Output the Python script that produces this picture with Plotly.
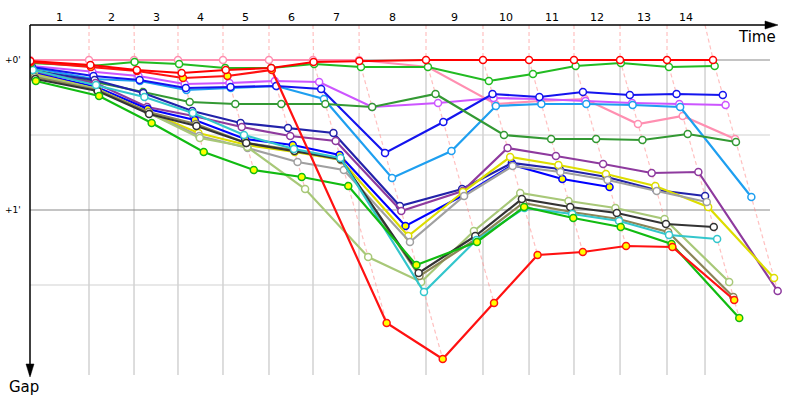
import plotly.graph_objects as go

# ---------------- data ----------------
# leader's cumulative race time at the end of each lap (s); index 0 = start
leader_times = [0, 84.3, 148.6, 211.4, 275.7, 341.4, 404.3, 470.0, 565.7,
                647.1, 712.9, 777.1, 842.9, 910.0, 975.7]
# vertical lap boundaries drawn on the chart (s); last one is the time limit
grid_times = [84.3, 148.6, 211.4, 275.7, 341.4, 404.3, 470.0, 565.7,
              647.1, 712.9, 777.1, 842.9, 910.0, 964.3]
lap_labels = [str(i) for i in range(1, 15)]
gap_ticks = [0, 60]
gap_tick_labels = ["+0'", "+1'"]

# gap to the leader (s) at the end of each lap, per car
names = ["Pink", "Violet", "Sky blue", "Deep blue", "Dark green", "Navy", "Purple",
         "Blue Y", "Yellow", "Gray", "Light olive", "Olive", "Black", "Cyan",
         "Green Y", "Green", "Red Y", "Red"]
colors = ["#FF8FB1", "#CC55FF", "#1E9FF0", "#1414EE", "#339933", "#2222AA", "#8E3A9E",
          "#0000FF", "#DDDD00", "#A0A0A0", "#A8C878", "#8B8557", "#333333", "#33C6CC",
          "#11BB11", "#22BB22", "#FF1111", "#FF0000"]
fills = ["white", "white", "white", "white", "white", "white", "white",
         "#FFFF00", "white", "white", "white", "white", "white", "white",
         "#FFFF00", "white", "#FFFF00", "white"]

gap_pink = [0, 0, 0, 0, 0, 0, 0, 0, 2.8, 17.6, 16.4, 15.6, 25.6, 22.4, 31.6]
gap_violet = [2.4, 4.8, 6.4, 9.6, 9.2, 8.4, 8.8, 18.8, 17.2, 15.2, 15.6, 16.4, 17.2, 17.6, 18.0]
gap_skyblue = [3.2, 7.6, 8.4, 12.0, 11.2, 10.4, 15.6, 47.2, 36.4, 18.4, 17.6, 17.6, 18.0, 18.8, 54.8]
gap_deepblue = [2.8, 6.4, 8.0, 11.2, 10.8, 10.4, 11.6, 37.2, 24.8, 13.6, 14.8, 12.8, 14.0, 13.6, 14.0]
gap_darkgreen = [4.0, 8.8, 12.8, 16.8, 17.6, 17.6, 17.6, 18.8, 13.6, 30.0, 31.6, 31.6, 32.0, 29.6, 32.8]
gap_navy = [4.4, 8.0, 13.2, 20.4, 25.2, 27.2, 29.2, 58.4, 51.6, 41.2, 43.6, 46.8, 52.0, 54.4]
gap_purple = [4.8, 9.2, 18.8, 22.4, 26.8, 30.4, 32.4, 60.4, 52.4, 35.2, 38.4, 41.6, 45.2, 44.8, 92.4]
gap_blue_y = [5.2, 10.8, 19.6, 24.0, 31.6, 34.0, 38.0, 66.4, 54.0, 42.0, 47.6, 50.8]
gap_yellow = [5.6, 11.6, 20.8, 29.2, 34.0, 36.8, 40.0, 70.4, 52.8, 38.8, 42.0, 45.6, 50.4, 58.8, 87.2]
gap_gray = [6.0, 12.0, 21.2, 30.4, 35.2, 40.8, 44.0, 72.8, 54.4, 42.4, 44.8, 48.0, 52.4, 56.8]
gap_lightolive = [6.0, 11.6, 21.2, 31.2, 34.8, 51.6, 78.8, 88.8, 68.4, 53.2, 56.4, 59.2, 63.6, 88.8]
gap_olive = [6.8, 12.0, 20.8, 25.6, 33.2, 36.0, 40.0, 86.4, 71.6, 57.2, 60.8, 63.6, 68.8, 94.8]
gap_black = [7.6, 12.4, 21.6, 26.4, 33.2, 36.4, 39.6, 85.2, 70.4, 55.6, 58.8, 61.2, 65.6, 66.8]
gap_cyan = [4.0, 10.0, 14.8, 21.2, 30.0, 35.6, 39.2, 92.8, 72.0, 59.2, 61.6, 64.4, 70.0, 71.6]
gap_green_y = [8.4, 14.4, 25.2, 36.8, 44.0, 46.8, 50.4, 82.0, 72.8, 58.8, 63.2, 66.8, 73.6, 103.2]
gap_green = [1.2, 2.4, 0.8, 1.6, 3.2, 3.2, 1.6, 2.8, 2.8, 8.4, 5.6, 2.4, 1.2, 2.8, 2.4]
gap_red_y = [0.8, 2.8, 4.4, 7.2, 6.4, 4.0, 105.2, 119.6, 97.2, 78.0, 76.8, 74.4, 74.8, 96.0]
gap_red = [0.4, 2.0, 4.0, 5.2, 4.0, 3.2, 0.8, 0.4, 0, 0, 0, 0, 0, 0, 0]

gaps = [gap_pink, gap_violet, gap_skyblue, gap_deepblue, gap_darkgreen, gap_navy,
        gap_purple, gap_blue_y, gap_yellow, gap_gray, gap_lightolive, gap_olive,
        gap_black, gap_cyan, gap_green_y, gap_green, gap_red_y, gap_red]

# ---------------- figure ----------------
X_MAX = 1085.7      # right edge of drawing area
X_GRID_END = 1057.1  # where the horizontal gap lines stop
Y_TOP, Y_BOT = -14, 126

fig = go.Figure()

shapes = []
for t in grid_times:
    shapes.append(dict(type="line", xref="x", yref="y", x0=t, x1=t, y0=0, y1=Y_BOT,
                       line=dict(color="#D2D2D2", width=1.5), layer="below"))
for g, c in [(0, "#8A8A8A"), (30, "#D2D2D2"), (60, "#8A8A8A"), (90, "#D2D2D2")]:
    shapes.append(dict(type="line", xref="x", yref="y", x0=0, x1=X_GRID_END, y0=g, y1=g,
                       line=dict(color=c, width=1.2), layer="below"))

# lap lines (dashed) linking every car's crossing of the same lap
for k in range(1, len(grid_times) + 1):
    pts = []
    for gp in gaps:
        if len(gp) > k:
            pts.append((leader_times[k] + gp[k], gp[k]))
    pts.sort(key=lambda p: p[1])
    xs = [grid_times[k - 1]] + [p[0] for p in pts]
    ys = [Y_TOP] + [p[1] for p in pts]
    fig.add_trace(go.Scatter(x=xs, y=ys, mode="lines", hoverinfo="skip",
                             line=dict(color="rgba(255,140,140,0.55)", width=1.2,
                                       dash="4px,3px")))

# car traces
for name, col, fc, gp in zip(names, colors, fills, gaps):
    xs = [leader_times[i] + g for i, g in enumerate(gp)]
    fig.add_trace(go.Scatter(
        x=xs, y=gp, mode="lines+markers", name=name,
        line=dict(color=col, width=2.2),
        marker=dict(size=7, color=fc, line=dict(color=col, width=1.5)),
    ))

# axes with arrows (paper coordinates)
W, H = 760.0, 350.0
shapes.append(dict(type="line", xref="paper", yref="paper", x0=0, x1=736 / W, y0=1, y1=1,
                   line=dict(color="black", width=1.5)))
shapes.append(dict(type="path", xref="paper", yref="paper",
                   path=f"M {748/W} 1 L {735/W} {1+4/H} L {735/W} {1-4/H} Z",
                   fillcolor="black", line=dict(color="black", width=0.5)))
shapes.append(dict(type="line", xref="paper", yref="paper", x0=0, x1=0, y0=1, y1=0.0,
                   line=dict(color="black", width=1.5)))
shapes.append(dict(type="path", xref="paper", yref="paper",
                   path=f"M 0 {-2/H} L {-4/W} {11/H} L {4/W} {11/H} Z",
                   fillcolor="black", line=dict(color="black", width=0.5)))

annotations = []
bounds = [0] + grid_times
for i, lab in enumerate(lap_labels):
    annotations.append(dict(x=(bounds[i] + bounds[i + 1]) / 2, y=1, xref="x", yref="paper",
                            text=lab, showarrow=False, yanchor="middle", yshift=8,
                            font=dict(family="DejaVu Sans", size=11, color="black")))
for g, lab in zip(gap_ticks, gap_tick_labels):
    annotations.append(dict(x=0, y=g, xref="paper", yref="y", text=lab, showarrow=False,
                            xanchor="right", xshift=-7,
                            font=dict(family="DejaVu Sans", size=9, color="black")))
annotations.append(dict(x=748 / W, y=1, xref="paper", yref="paper", text="Time",
                        showarrow=False, xanchor="right", yanchor="top", yshift=-1,
                        font=dict(family="DejaVu Sans", size=15, color="black")))
annotations.append(dict(x=0, y=0, xref="paper", yref="paper", text="Gap",
                        showarrow=False, xanchor="center", yanchor="top", yshift=-1,
                        xshift=-6,
                        font=dict(family="DejaVu Sans", size=15, color="black")))

fig.update_layout(
    width=800, height=400,
    margin=dict(l=30, r=10, t=25, b=25),
    plot_bgcolor="white", paper_bgcolor="white",
    showlegend=False,
    shapes=shapes, annotations=annotations,
    xaxis=dict(range=[0, X_MAX], visible=False, showgrid=False, zeroline=False),
    yaxis=dict(range=[Y_BOT, Y_TOP], visible=False, showgrid=False, zeroline=False),
)

fig.write_html("out.html")
